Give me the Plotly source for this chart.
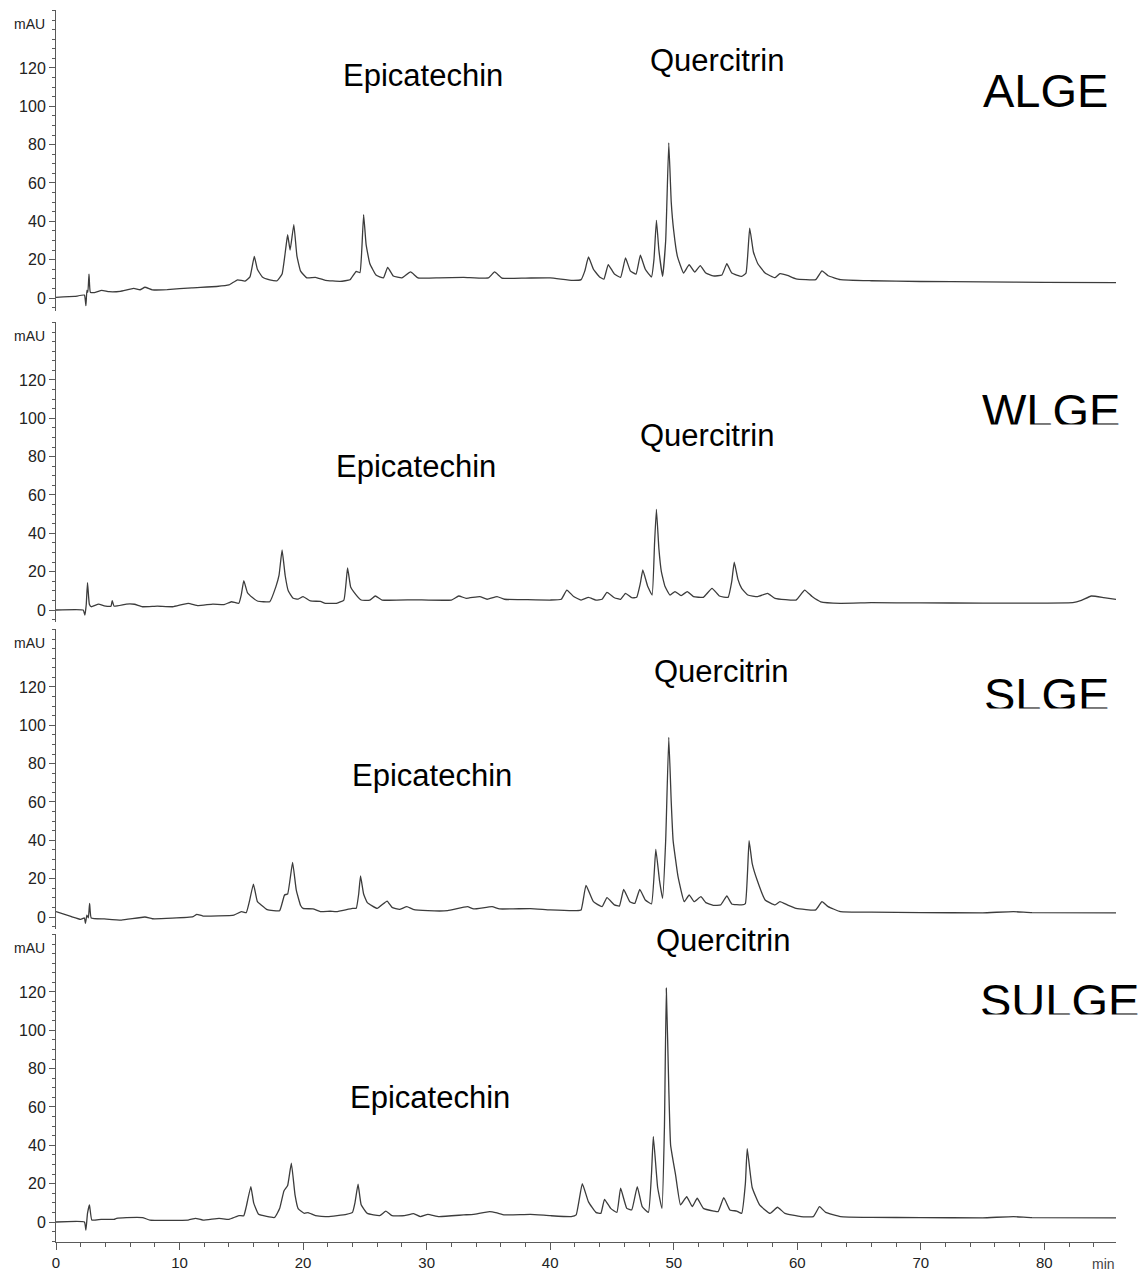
import plotly.graph_objects as go
from plotly.subplots import make_subplots

# ---------------- data (retention time in min, absorbance in mAU) ----------------
alge_t = [0.0, 1.5, 2.3, 2.42, 2.5, 2.58, 2.67, 2.78, 3.1, 3.7, 4.3, 5.2, 6.3, 6.8, 7.2, 7.8, 9.0, 11.0, 13.0, 14.0,
          14.7, 15.3, 15.7, 16.05, 16.3, 16.7, 17.3, 17.9, 18.3, 18.6, 18.75, 18.95, 19.25, 19.5, 19.8, 20.3, 21.0,
          21.8, 23.0, 23.8, 24.3, 24.6, 24.75, 24.9, 25.1, 25.4, 25.9, 26.5, 26.85, 27.3, 28.0, 28.7, 29.3, 31.0,
          33.0, 35.0, 35.5, 36.1, 38.0, 40.0, 41.8, 42.5, 42.8, 43.1, 43.5, 44.0, 44.35, 44.7, 45.2, 45.7, 46.1,
          46.5, 46.95, 47.3, 47.7, 48.2, 48.4, 48.6, 48.8, 49.1, 49.35, 49.6, 49.8, 50.0, 50.3, 50.8, 51.25, 51.7,
          52.15, 52.6, 53.2, 53.9, 54.3, 54.7, 55.5, 55.85, 56.15, 56.45, 56.8, 57.4, 58.2, 58.6, 59.2, 59.9, 61.5,
          62.0, 62.5, 63.5, 66.0, 70.0, 75.0, 80.0, 85.8]
alge_v = [0.3, 0.8, 1.5, -4.0, 4.0, 3.0, 12.5, 3.0, 2.8, 4.0, 3.3, 3.5, 5.0, 4.3, 5.6, 4.2, 4.4, 5.3, 6.0, 6.8,
          9.5, 8.8, 11.0, 21.7, 15.0, 11.0, 9.5, 9.0, 12.5, 26.0, 33.0, 25.0, 38.3, 22.0, 14.0, 10.5, 10.8,
          9.2, 8.7, 9.5, 13.9, 13.2, 25.0, 43.5, 28.0, 18.0, 12.0, 10.5, 16.0, 11.5, 10.5, 13.6, 10.5, 10.5,
          10.8, 10.5, 13.6, 10.4, 10.4, 10.5, 9.2, 9.6, 14.0, 21.4, 15.0, 11.0, 9.8, 17.4, 12.5, 10.8, 20.9,
          14.0, 12.5, 22.3, 15.0, 11.0, 20.0, 40.5, 25.0, 11.3, 30.0, 80.9, 50.0, 35.0, 21.7, 13.0, 17.4, 13.5,
          16.9, 13.0, 11.5, 12.0, 17.9, 13.0, 11.3, 13.0, 36.5, 24.0, 18.0, 13.0, 10.6, 12.7, 11.8, 10.0, 9.6,
          14.1, 11.6, 9.6, 9.0, 8.6, 8.4, 8.2, 8.0]

wlge_t = [0.0, 2.2, 2.34, 2.45, 2.55, 2.7, 2.85, 3.45, 3.9, 4.45, 4.55, 4.7, 5.7, 6.35, 7.0, 8.2, 9.45, 10.7, 11.5,
          12.7, 13.6, 14.2, 14.8, 15.0, 15.2, 15.5, 15.9, 16.3, 17.3, 17.8, 18.05, 18.3, 18.55, 18.8, 19.2, 19.6,
          20.0, 20.6, 21.4, 21.8, 22.7, 23.3, 23.6, 23.85, 24.1, 24.7, 25.4, 25.85, 26.4, 29.0, 32.0, 32.6, 33.2,
          34.3, 34.9, 35.7, 36.3, 38.0, 40.0, 40.9, 41.35, 41.9, 42.5, 43.1, 43.7, 44.2, 44.6, 45.2, 45.7, 46.1,
          46.6, 47.0, 47.3, 47.5, 47.9, 48.25, 48.45, 48.6, 48.8, 49.0, 49.3, 49.7, 50.1, 50.6, 51.1, 51.6, 52.4,
          53.1, 53.7, 54.4, 54.7, 54.9, 55.2, 55.5, 56.0, 56.8, 57.6, 58.2, 59.9, 60.6, 61.2, 61.9, 63.5, 66.0,
          70.0, 75.0, 80.0, 82.3, 83.0, 83.8, 84.8, 85.8]
wlge_v = [0.0, 0.0, -2.6, 3.0, 14.3, 3.0, 1.7, 3.1, 2.2, 2.0, 4.9, 2.0, 3.1, 3.0, 1.7, 2.0, 1.7, 3.5, 2.3,
          3.1, 2.8, 4.3, 3.5, 8.0, 15.3, 9.0, 6.5, 4.7, 4.3, 12.2, 18.0, 31.3, 18.0, 10.0, 6.1, 5.7,
          7.0, 4.7, 4.5, 3.5, 3.5, 5.2, 22.0, 12.0, 9.5, 5.2, 5.2, 7.3, 5.2, 5.3, 5.2, 7.3, 6.1,
          7.0, 5.6, 7.0, 5.6, 5.4, 5.2, 5.6, 10.4, 7.0, 5.2, 6.6, 5.2, 5.6, 9.2, 6.4, 5.6, 8.7,
          6.4, 6.6, 14.0, 20.9, 12.2, 7.8, 35.0, 52.5, 32.0, 20.0, 12.2, 7.8, 9.6, 7.5, 9.6, 7.0, 6.6,
          11.3, 7.3, 6.6, 15.0, 25.0, 16.0, 11.3, 7.8, 7.0, 8.7, 6.1, 5.2, 10.4, 7.0, 4.3, 3.5, 3.8,
          3.7, 3.6, 3.6, 3.8, 5.0, 7.3, 6.5, 5.5]

slge_t = [0.0, 1.2, 2.0, 2.3, 2.38, 2.5, 2.62, 2.72, 2.85, 3.9, 5.3, 7.2, 7.8, 9.4, 11.1, 11.4, 11.9, 14.4, 15.0,
          15.4, 15.65, 15.98, 16.3, 16.6, 17.1, 18.1, 18.5, 18.75, 19.15, 19.45, 19.8, 20.0, 20.8, 21.4, 22.2,
          22.7, 24.0, 24.3, 24.5, 24.65, 24.9, 25.2, 26.0, 26.8, 27.2, 27.8, 28.4, 28.9, 30.1, 31.7, 33.3, 33.8,
          35.3, 35.9, 38.4, 40.0, 42.1, 42.5, 42.9, 43.5, 44.2, 44.6, 45.2, 45.6, 45.95, 46.45, 46.85, 47.25,
          47.7, 48.2, 48.55, 48.85, 49.1, 49.35, 49.6, 49.8, 49.95, 50.35, 50.85, 51.25, 51.65, 52.2, 52.6,
          53.2, 53.8, 54.3, 54.7, 55.5, 55.8, 56.1, 56.35, 56.75, 57.4, 58.2, 58.6, 59.2, 59.9, 61.5, 62.0,
          62.5, 63.5, 66.0, 70.0, 75.0, 77.5, 79.0, 85.8]
slge_v = [2.8, 0.3, -1.2, -0.5, -3.3, 1.0, -0.5, 7.1, -0.5, -1.0, -1.6, 0.0, -0.9, -0.6, 0.2, 1.4, 0.5, 1.0, 2.8,
          2.3, 8.0, 17.2, 8.0, 6.3, 3.8, 3.3, 11.5, 12.0, 28.5, 14.0, 6.0, 4.5, 4.2, 2.8, 3.0,
          2.8, 4.5, 4.5, 12.0, 21.4, 12.0, 7.5, 4.5, 8.3, 5.0, 4.0, 5.4, 4.0, 3.3, 3.3, 5.4, 4.2,
          5.4, 4.2, 4.4, 3.7, 3.3, 3.6, 16.5, 8.0, 5.4, 10.1, 6.3, 5.7, 14.4, 8.0, 7.1, 14.4,
          8.9, 6.8, 35.3, 19.0, 9.7, 40.0, 93.7, 60.0, 40.0, 21.0, 8.0, 11.5, 8.0, 10.6, 7.5,
          6.1, 6.3, 11.0, 6.8, 6.3, 7.0, 39.8, 28.0, 19.3, 8.9, 6.3, 8.0, 6.3, 4.5, 3.7, 8.0,
          5.4, 2.8, 2.5, 2.3, 2.2, 2.8, 2.3, 2.2]

sulge_t = [0.0, 2.3, 2.42, 2.55, 2.71, 2.9, 3.65, 4.7, 4.9, 5.7, 7.0, 7.6, 10.7, 11.3, 11.9, 13.2, 14.0, 14.8, 15.2,
           15.4, 15.77, 16.0, 16.4, 17.7, 18.1, 18.45, 18.75, 19.05, 19.35, 19.6, 20.1, 20.4, 21.0, 22.0, 23.5,
           24.0, 24.2, 24.45, 24.7, 25.2, 26.2, 26.7, 27.2, 28.2, 28.95, 29.5, 30.1, 31.0, 33.0, 33.8, 35.1, 35.7,
           36.3, 38.4, 40.0, 41.7, 42.1, 42.6, 43.1, 43.7, 44.1, 44.4, 44.9, 45.4, 45.7, 46.2, 46.6, 47.05, 47.45,
           47.95, 48.2, 48.35, 48.7, 49.05, 49.25, 49.4, 49.6, 49.75, 50.15, 50.55, 51.05, 51.5, 51.9, 52.4,
           53.25, 53.6, 54.05, 54.55, 55.1, 55.5, 55.8, 55.95, 56.35, 56.95, 57.8, 58.4, 59.0, 60.3, 61.3, 61.8,
           62.3, 63.5, 66.0, 70.0, 75.0, 77.5, 79.0, 85.8]
sulge_v = [0.0, 0.0, -4.2, 4.5, 8.9, 1.0, 1.4, 1.4, 1.9, 2.3, 2.3, 1.0, 1.0, 1.9, 1.0, 1.9, 1.4, 3.3, 3.3,
           8.0, 18.5, 10.0, 4.0, 2.4, 7.0, 16.2, 19.0, 30.7, 14.0, 7.0, 4.5, 4.9, 3.3, 2.8, 4.0,
           5.0, 10.0, 19.7, 9.0, 4.5, 3.3, 5.7, 3.3, 3.3, 4.4, 2.8, 4.0, 2.8, 3.7, 4.0, 5.4, 4.7,
           3.7, 4.0, 3.3, 2.8, 3.7, 20.0, 10.5, 5.0, 4.5, 11.8, 7.1, 5.0, 17.6, 7.1, 6.3, 18.5, 8.0,
           5.0, 25.0, 44.6, 18.0, 7.1, 50.0, 122.0, 70.0, 40.0, 24.6, 8.9, 13.2, 8.0, 12.4, 7.1,
           5.7, 5.4, 12.7, 6.3, 5.7, 4.5, 20.0, 38.2, 18.0, 8.9, 4.5, 7.7, 4.5, 2.8, 2.8, 8.0,
           5.0, 2.8, 2.4, 2.3, 2.2, 2.8, 2.3, 2.2]

sample_names = ["ALGE", "WLGE", "SLGE", "SULGE"]
y_tick_values = [0, 20, 40, 60, 80, 100, 120]
x_tick_values = [0, 10, 20, 30, 40, 50, 60, 70, 80]

# label positions (min, mAU) per panel: epicatechin, quercitrin, sample name
epi_pos = [(29.7, 116), (29.1, 75), (30.4, 74), (30.3, 64.7)]
que_pos = [(53.5, 124), (52.7, 91), (53.8, 128), (54.0, 146.6)]
name_pos = [(80.1, 108), (80.5, 104), (80.2, 116), (81.2, 115.8)]
# in the source image the lower edge of three sample names is cut off (mAU level of the cut)
name_cut = [None, 96.8, 108.8, 108.5]

series = [(alge_t, alge_v), (wlge_t, wlge_v), (slge_t, slge_v), (sulge_t, sulge_v)]

# ---------------- layout geometry ----------------
W, H = 1142, 1277
ML, MR, MT, MB = 56, 26, 0, 35
PH = H - MT - MB
zero_px = [298, 610, 917, 1222]
ppu = 1.917
ymins = [-7.0, -6.0, -6.5, -10.4]
YMAX = 150.0

FONT = "Liberation Sans, Arial, sans-serif"
LINE_C = "#3c3c3c"
AX_C = "#5a5a5a"

fig = make_subplots(rows=4, cols=1, shared_xaxes=True, vertical_spacing=0.0)

for i, (t, v) in enumerate(series):
    fig.add_trace(go.Scatter(x=t, y=v, mode="lines",
                             line=dict(color=LINE_C, width=1.3, shape="spline", smoothing=0.35),
                             showlegend=False, hoverinfo="skip"), row=i + 1, col=1)

minor_y = [m for m in range(-10, 151, 5) if m not in y_tick_values]

for i in range(4):
    bottom_px = zero_px[i] - ymins[i] * ppu
    top_px = zero_px[i] - YMAX * ppu
    dom = [(PH - (bottom_px - MT)) / PH, (PH - (top_px - MT)) / PH]
    dom = [max(0.0, dom[0]), min(1.0, dom[1])]
    yname = "yaxis" if i == 0 else f"yaxis{i + 1}"
    fig.layout[yname].update(
        domain=dom, range=[ymins[i], YMAX], showline=True, linecolor=AX_C, linewidth=1,
        ticks="outside", ticklen=6, tickcolor=AX_C, tickwidth=1,
        tickmode="array", tickvals=y_tick_values,
        tickfont=dict(family=FONT, size=16, color="#222"),
        showgrid=False, zeroline=False,
        minor=dict(tickmode="array", tickvals=minor_y, ticks="outside", ticklen=3,
                   tickcolor=AX_C, tickwidth=1, showgrid=False),
    )
    xname = "xaxis" if i == 0 else f"xaxis{i + 1}"
    if i < 3:
        fig.layout[xname].update(range=[0, 85.8], showline=False, ticks="", showticklabels=False,
                                 showgrid=False, zeroline=False)
    else:
        fig.layout[xname].update(
            range=[0, 85.8], showline=True, linecolor=AX_C, linewidth=1,
            ticks="outside", ticklen=7, tickcolor=AX_C, tickmode="array", tickvals=x_tick_values,
            tickfont=dict(family=FONT, size=15, color="#222"), showgrid=False, zeroline=False,
            minor=dict(tickmode="array", tickvals=[m for m in range(0, 86, 2) if m % 10],
                       ticks="outside", ticklen=4, tickcolor=AX_C, showgrid=False),
        )

annotations = []
for i in range(4):
    xr = "x" if i == 0 else f"x{i + 1}"
    yr = "y" if i == 0 else f"y{i + 1}"
    annotations.append(dict(text="mAU", xref="paper", x=0, xanchor="right", xshift=-9,
                            yref=yr, y=143, yanchor="middle", showarrow=False,
                            font=dict(family=FONT, size=14, color="#222")))
    annotations.append(dict(text="Epicatechin", xref=xr, x=epi_pos[i][0], yref=yr, y=epi_pos[i][1],
                            xanchor="center", yanchor="middle", showarrow=False,
                            font=dict(family=FONT, size=31, color="#000")))
    annotations.append(dict(text="Quercitrin", xref=xr, x=que_pos[i][0], yref=yr, y=que_pos[i][1],
                            xanchor="center", yanchor="middle", showarrow=False,
                            font=dict(family=FONT, size=31, color="#000")))
    annotations.append(dict(text=sample_names[i], xref=xr, x=name_pos[i][0], yref=yr, y=name_pos[i][1],
                            xanchor="center", yanchor="middle", showarrow=False,
                            font=dict(family=FONT, size=47, color="#000")))
    if name_cut[i] is not None:
        # white strip reproducing the cropped lower edge of the label
        annotations.append(dict(text=" ", xref=xr, x=name_pos[i][0], yref=yr, y=name_cut[i],
                                xanchor="center", yanchor="top", showarrow=False,
                                width=190, height=14, bgcolor="white", borderpad=0,
                                font=dict(family=FONT, size=8, color="white")))

annotations.append(dict(text="min", xref="x4", x=84.8, yref="paper", y=0, yshift=-22,
                        xanchor="center", yanchor="middle", showarrow=False,
                        font=dict(family=FONT, size=14, color="#444")))

fig.update_layout(
    width=W, height=H, margin=dict(l=ML, r=MR, t=MT, b=MB),
    plot_bgcolor="white", paper_bgcolor="white", annotations=annotations,
    font=dict(family=FONT),
)

fig.write_html("out.html", post_script="document.body.style.margin='0';",
               config={"displayModeBar": False})
